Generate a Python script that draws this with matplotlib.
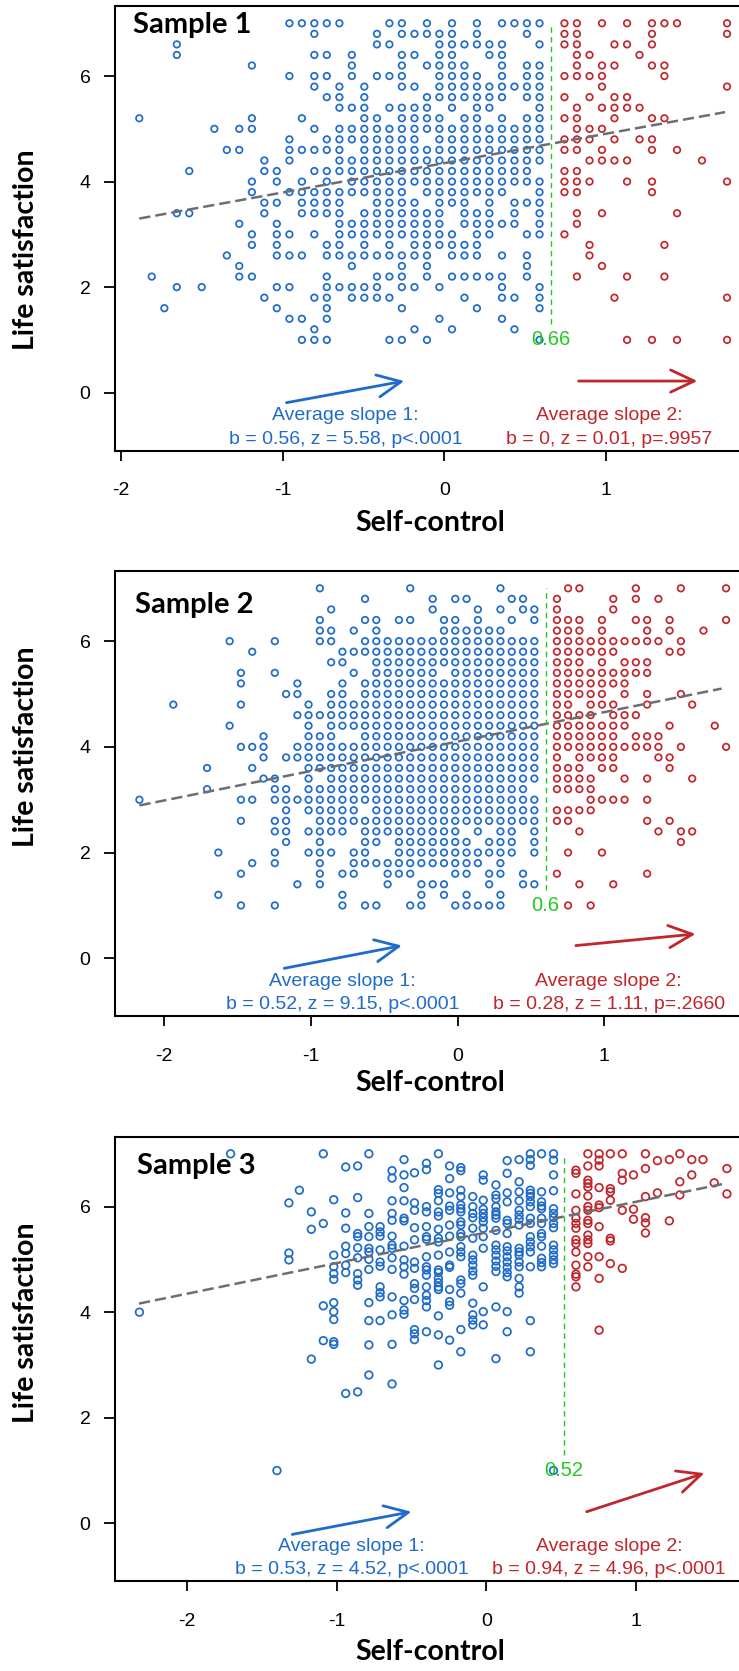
import matplotlib
matplotlib.use("Agg")
import matplotlib.pyplot as plt

plt.rcParams["font.family"] = ["Liberation Sans", "DejaVu Sans"]

blue = "#1f6bcb"
red = "#c0262c"
green = "#22c922"
grey = "#6e6e6e"

# life satisfaction levels (rows of the grid in samples 1 and 2)
row_y = [7.0, 6.8, 6.6, 6.4, 6.2, 6.0, 5.8, 5.6, 5.4, 5.2, 5.0, 4.8, 4.6, 4.4, 4.2, 4.0,
         3.8, 3.6, 3.4, 3.2, 3.0, 2.8, 2.6, 2.4, 2.2, 2.0, 1.8, 1.6, 1.4, 1.2, 1.0]

# ---------------- sample 1 ----------------
s1_x = [-1.886, -1.809, -1.731, -1.654, -1.577, -1.5, -1.422, -1.345, -1.268, -1.19,
        -1.113, -1.036, -0.958, -0.881, -0.804, -0.727, -0.649, -0.572, -0.495, -0.417,
        -0.34, -0.263, -0.185, -0.108, -0.031, 0.047, 0.124, 0.201, 0.278, 0.356,
        0.433, 0.51, 0.588, 0.665, 0.742, 0.819, 0.897, 0.974, 1.051, 1.129,
        1.206, 1.283, 1.36, 1.438, 1.515, 1.592, 1.669, 1.747]
# occupied columns (index into s1_x) for each row of row_y
s1_rows = [
    [12, 13, 14, 15, 16, 20, 21, 23, 25, 27, 29, 30, 31, 32, 34, 35, 37, 39, 41, 42, 43, 47],
    [14, 19, 21, 22, 23, 24, 25, 27, 31, 34, 35, 41, 47],
    [3, 19, 20, 24, 25, 26, 27, 28, 29, 32, 34, 35, 38, 39, 41],
    [3, 14, 15, 17, 21, 22, 24, 25, 28, 29, 35, 36, 40],
    [9, 17, 21, 23, 24, 25, 26, 29, 31, 32, 35, 37, 38, 41, 42],
    [12, 14, 15, 17, 19, 20, 21, 24, 25, 26, 27, 29, 31, 32, 34, 35, 36, 37, 42],
    [14, 16, 18, 21, 22, 24, 25, 26, 27, 28, 29, 30, 31, 32, 37, 47],
    [15, 16, 18, 23, 24, 25, 26, 27, 28, 29, 31, 32, 34, 36, 38, 39],
    [16, 17, 18, 20, 21, 22, 23, 25, 27, 28, 32, 35, 37, 38, 39, 40],
    [0, 9, 13, 18, 19, 21, 22, 23, 24, 26, 27, 29, 31, 32, 34, 35, 38, 41, 42],
    [6, 8, 9, 14, 16, 17, 18, 19, 20, 21, 22, 23, 24, 25, 26, 27, 28, 29, 30, 31, 32, 35, 36, 37],
    [12, 15, 16, 17, 18, 19, 20, 21, 22, 24, 25, 26, 27, 28, 29, 30, 31, 32, 34, 35, 36, 38, 40, 41],
    [7, 8, 12, 13, 14, 15, 16, 18, 19, 20, 21, 22, 23, 24, 25, 26, 27, 28, 29, 30, 31, 32, 34, 35, 37, 41, 43],
    [10, 12, 16, 17, 18, 19, 20, 21, 22, 23, 24, 25, 26, 27, 28, 29, 30, 31, 32, 36, 37, 38, 39, 45],
    [4, 10, 11, 14, 15, 16, 17, 18, 19, 20, 21, 22, 23, 24, 25, 26, 27, 28, 29, 30, 31, 34, 35],
    [9, 11, 13, 15, 17, 18, 19, 20, 21, 22, 23, 24, 25, 26, 27, 28, 29, 30, 31, 32, 34, 35, 36, 39, 41, 47],
    [9, 12, 13, 14, 15, 16, 17, 18, 19, 20, 21, 23, 24, 25, 26, 27, 28, 29, 32, 34, 35, 41],
    [10, 11, 13, 14, 15, 16, 19, 20, 21, 22, 24, 25, 26, 28, 30, 31, 32],
    [3, 4, 10, 13, 14, 15, 16, 18, 19, 20, 21, 22, 23, 24, 26, 27, 28, 30, 32, 35, 37, 43],
    [8, 11, 16, 17, 18, 19, 20, 21, 22, 23, 24, 26, 27, 28, 29, 30, 32, 35],
    [9, 11, 12, 14, 16, 17, 18, 19, 20, 21, 22, 23, 24, 25, 27, 28, 31, 32, 34],
    [9, 11, 15, 16, 18, 20, 22, 23, 24, 25, 26, 27, 36, 42],
    [7, 11, 12, 13, 15, 16, 17, 18, 19, 20, 21, 22, 23, 25, 26, 27, 29, 31, 36],
    [8, 17, 21, 23, 31, 37],
    [1, 8, 9, 15, 19, 20, 21, 23, 25, 26, 27, 28, 29, 31, 35, 39, 42],
    [3, 5, 11, 12, 15, 16, 17, 18, 19, 21, 22, 24, 29, 32],
    [10, 14, 15, 17, 18, 19, 20, 26, 29, 30, 32, 38, 47],
    [2, 11, 15, 21, 27, 32],
    [12, 13, 15, 24, 29],
    [14, 22, 25, 30],
    [13, 14, 15, 20, 21, 23, 32, 39, 41, 43, 47],
]

# ---------------- sample 2 ----------------
s2_x = [-2.169, -2.092, -2.015, -1.938, -1.861, -1.785, -1.708, -1.631, -1.554, -1.477,
        -1.4, -1.323, -1.246, -1.169, -1.092, -1.016, -0.939, -0.862, -0.785, -0.708,
        -0.631, -0.554, -0.477, -0.4, -0.323, -0.247, -0.17, -0.093, -0.016, 0.061,
        0.138, 0.215, 0.292, 0.369, 0.446, 0.523, 0.6, 0.677, 0.753, 0.83,
        0.907, 0.984, 1.061, 1.138, 1.215, 1.292, 1.369, 1.445, 1.522, 1.599,
        1.676, 1.753, 1.83]
s2_rows = [
    [16, 24, 32, 38, 39, 44, 48, 52],
    [20, 26, 28, 29, 33, 34, 37, 42, 44, 46],
    [17, 26, 30, 32, 34, 35, 37, 42],
    [16, 20, 21, 23, 24, 27, 28, 30, 33, 35, 37, 38, 39, 41, 44, 45, 47, 52],
    [16, 17, 19, 21, 27, 28, 29, 30, 31, 32, 37, 38, 39, 41, 45, 47, 50],
    [8, 12, 16, 17, 20, 21, 22, 23, 24, 25, 26, 27, 28, 29, 30, 31, 32, 33, 34, 35,
     37, 38, 39, 40, 41, 42, 43, 44, 45, 46, 48],
    [10, 18, 19, 20, 21, 22, 23, 24, 25, 26, 27, 28, 29, 30, 31, 32, 33, 34, 35,
     37, 38, 39, 40, 41, 42, 47, 48],
    [17, 18, 21, 22, 23, 24, 25, 26, 27, 28, 29, 30, 31, 32, 33, 34, 35, 37, 38, 39, 41, 43, 44, 45],
    [9, 12, 19, 21, 22, 23, 24, 25, 26, 28, 29, 30, 31, 32, 33, 34, 35,
     37, 38, 39, 40, 41, 42, 43, 44, 45],
    [9, 14, 18, 20, 21, 22, 23, 24, 25, 26, 27, 28, 29, 30, 31, 32, 33, 34, 35,
     37, 38, 39, 40, 41, 42, 43],
    [13, 14, 17, 18, 20, 21, 22, 23, 24, 25, 26, 27, 28, 29, 30, 31, 32, 33, 34, 35,
     37, 38, 39, 40, 41, 43, 45, 48],
    [3, 9, 15, 17, 18, 19, 20, 21, 22, 23, 24, 25, 26, 27, 28, 29, 30, 31, 32, 33, 34, 35,
     37, 38, 40, 41, 42, 45, 49],
    [14, 15, 16, 17, 18, 19, 20, 21, 22, 23, 24, 25, 26, 27, 28, 29, 30, 31, 32, 33, 34, 35,
     37, 38, 39, 40, 42, 43, 44],
    [8, 15, 17, 18, 19, 20, 21, 22, 23, 24, 25, 26, 27, 28, 29, 30, 31, 32, 33, 34, 35,
     37, 38, 39, 40, 41, 42, 43, 47, 51],
    [11, 15, 16, 17, 20, 21, 22, 23, 24, 25, 26, 27, 28, 29, 30, 31, 32, 33, 34, 35,
     37, 38, 39, 40, 41, 42, 44, 45, 46],
    [9, 10, 11, 14, 15, 16, 17, 18, 19, 20, 21, 22, 23, 24, 25, 26, 27, 28, 29, 30, 31, 32, 33, 34, 35,
     37, 38, 39, 40, 41, 42, 43, 44, 45, 46, 48, 52],
    [11, 13, 14, 15, 16, 17, 18, 19, 20, 21, 22, 23, 24, 25, 26, 27, 28, 29, 30, 31, 32, 33, 34, 35,
     37, 39, 40, 41, 42, 46, 47],
    [6, 10, 15, 16, 17, 18, 19, 20, 21, 22, 23, 24, 25, 26, 27, 28, 29, 30, 31, 32, 33, 34, 35,
     37, 38, 39, 41, 42, 47],
    [11, 12, 15, 17, 18, 19, 20, 21, 22, 23, 24, 25, 26, 27, 28, 29, 30, 31, 32, 33, 34, 35,
     37, 38, 39, 40, 43, 45, 49],
    [6, 12, 13, 15, 16, 17, 18, 19, 20, 21, 22, 23, 24, 25, 26, 27, 28, 29, 30, 31, 32, 33, 34,
     37, 38, 39, 40],
    [0, 9, 10, 12, 13, 14, 15, 16, 17, 18, 19, 20, 21, 22, 23, 24, 25, 26, 27, 28, 29, 30, 31, 32, 33, 34, 35,
     40, 41, 42, 43, 45],
    [13, 15, 16, 17, 18, 19, 21, 22, 23, 24, 25, 26, 27, 28, 29, 30, 31, 32, 33, 34, 35,
     37, 38, 39, 40],
    [9, 12, 13, 16, 17, 18, 19, 20, 21, 22, 23, 24, 25, 26, 27, 28, 29, 30, 31, 32, 33, 34, 35,
     37, 38, 45, 47],
    [12, 13, 15, 16, 17, 18, 20, 21, 22, 23, 24, 25, 26, 27, 28, 30, 32, 33, 35, 39, 46, 48, 49],
    [13, 16, 20, 21, 23, 24, 25, 26, 27, 28, 29, 31, 32, 33, 35, 48],
    [7, 12, 15, 16, 17, 19, 20, 23, 24, 25, 26, 27, 28, 29, 30, 31, 32, 33, 35, 38, 41],
    [10, 12, 16, 19, 20, 21, 22, 23, 24, 25, 26, 27, 28, 29, 30, 32],
    [9, 16, 18, 19, 22, 23, 24, 28, 29, 31, 32, 34, 37, 45],
    [14, 16, 22, 25, 26, 27, 31, 34, 35, 39, 42],
    [7, 18, 25, 27, 29, 32],
    [9, 12, 18, 20, 21, 24, 25, 28, 29, 30, 31, 32, 38, 40],
]

# ---------------- sample 3 (columns of self-control, life satisfaction values) ----------------
s3_x = [-2.32, -1.71, -1.40, -1.32, -1.25, -1.17, -1.09, -1.02, -0.94, -0.86, -0.785,
        -0.71, -0.63, -0.55, -0.48, -0.40, -0.32, -0.245, -0.17, -0.09, -0.02, 0.065,
        0.14, 0.22, 0.295, 0.37, 0.45,
        0.60, 0.68, 0.755, 0.83, 0.91, 0.985, 1.065, 1.145, 1.225, 1.295, 1.375,
        1.45, 1.525, 1.61]
s3_y = [
    [4.0],
    [7.0],
    [1.0],
    [6.07, 5.12, 4.99],
    [6.31],
    [5.9, 5.57, 3.11],
    [7.0, 5.68, 4.12, 3.46],
    [6.13, 5.08, 4.86, 4.73, 4.62, 4.18, 4.01, 3.86, 3.44, 3.39],
    [6.75, 5.88, 5.59, 5.25, 5.11, 4.89, 4.75, 2.46],
    [6.77, 6.17, 5.49, 5.43, 5.22, 5.03, 4.73, 4.61, 4.51, 2.49],
    [7.0, 5.87, 5.62, 5.43, 5.21, 5.14, 5.0, 4.81, 4.18, 3.84, 3.38, 2.81],
    [5.62, 5.52, 5.44, 5.18, 4.95, 4.87, 4.48, 4.37, 4.29, 3.84],
    [6.68, 6.54, 6.11, 5.87, 5.74, 5.44, 5.27, 5.21, 5.03, 4.81, 4.29, 3.95, 3.39, 2.64],
    [6.89, 6.6, 6.36, 6.11, 5.78, 5.73, 5.25, 4.99, 4.86, 4.72, 4.22, 4.04, 3.96],
    [6.64, 6.07, 5.93, 5.6, 5.37, 4.95, 4.83, 4.54, 4.45, 4.24, 3.67, 3.59, 3.48],
    [6.82, 6.7, 6.0, 5.9, 5.62, 5.43, 5.38, 5.05, 4.86, 4.8, 4.7, 4.48, 4.32, 4.22, 4.1, 3.63],
    [7.0, 6.32, 6.25, 6.11, 5.9, 5.82, 5.57, 5.4, 5.33, 5.08, 4.8, 4.75, 4.64, 4.56, 4.48,
     4.43, 3.93, 3.57, 3.0],
    [6.77, 6.53, 6.26, 6.01, 5.93, 5.65, 5.44, 5.14, 4.89, 4.85, 4.43, 4.2, 4.13, 3.47],
    [6.74, 6.68, 6.31, 6.19, 6.03, 5.96, 5.9, 5.71, 5.65, 5.49, 5.43, 5.24, 5.14, 5.05,
     4.61, 4.54, 4.36, 3.67, 3.25],
    [6.19, 6.0, 5.87, 5.79, 5.59, 5.4, 5.08, 4.99, 4.89, 4.78, 4.7, 4.17, 3.95, 3.85, 3.76],
    [6.6, 6.5, 6.12, 5.95, 5.87, 5.79, 5.71, 5.59, 5.43, 5.21, 4.48, 4.01, 3.76],
    [6.41, 6.22, 6.15, 6.0, 5.9, 5.84, 5.78, 5.55, 5.27, 5.18, 5.08, 4.97, 4.87, 4.77, 4.1, 3.12],
    [6.87, 6.63, 6.26, 6.09, 5.74, 5.68, 5.49, 5.24, 5.16, 5.05, 4.95, 4.85, 4.75, 4.67, 4.01, 3.63],
    [6.89, 6.47, 6.28, 6.11, 5.93, 5.84, 5.76, 5.65, 5.21, 5.14, 5.08, 4.95, 4.86, 4.64, 4.48, 4.36],
    [7.0, 6.89, 6.78, 6.31, 6.25, 6.19, 6.09, 6.0, 5.78, 5.68, 5.43, 5.33, 5.24, 5.14, 4.86, 3.84, 3.25],
    [7.0, 6.28, 6.09, 6.01, 5.96, 5.78, 5.68, 5.49, 5.43, 5.25, 5.02, 4.94, 4.86],
    [7.0, 6.88, 6.6, 6.3, 5.96, 5.87, 5.79, 5.68, 5.6, 5.27, 5.18, 5.08, 4.99, 4.92, 1.0],
    [6.69, 6.63, 6.24, 5.93, 5.78, 5.68, 5.59, 5.37, 5.3, 5.14, 4.89, 4.72, 4.67, 4.48],
    [7.0, 6.77, 6.5, 6.44, 6.37, 6.2, 6.0, 5.93, 5.74, 5.68, 5.46, 5.37, 5.3, 5.05, 4.86],
    [7.0, 6.88, 6.77, 6.36, 6.03, 5.98, 5.62, 5.05, 4.64, 3.66],
    [7.0, 6.34, 6.28, 6.12, 5.4, 5.35, 4.92],
    [7.0, 6.63, 6.5, 5.93, 4.83],
    [6.6, 5.95, 5.76],
    [7.0, 6.72, 6.19, 5.79, 5.69, 5.5],
    [6.87, 6.26],
    [6.89, 5.73],
    [7.0, 6.47, 6.22],
    [6.89, 6.6],
    [6.89],
    [6.45],
    [6.72, 6.24],
]

# ---------------- per-sample model results ----------------
names = ["Sample 1", "Sample 2", "Sample 3"]
cuts = [0.66, 0.6, 0.52]
cut_labels = ["0.66", "0.6", "0.52"]
reg_a = [4.35, 4.10, 5.51]
reg_b = [0.557, 0.557, 0.58]
reg_from = [-1.886, -2.169, -2.323]
reg_to = [1.735, 1.80, 1.577]
slope1_text = ["b = 0.56, z = 5.58, p<.0001", "b = 0.52, z = 9.15, p<.0001", "b = 0.53, z = 4.52, p<.0001"]
slope2_text = ["b = 0, z = 0.01, p=.9957", "b = 0.28, z = 1.11, p=.2660", "b = 0.94, z = 4.96, p<.0001"]
arrow1 = [((-0.976, -0.19), (-0.248, 0.22)), ((-1.182, -0.19), (-0.379, 0.24)), ((-1.298, -0.21), (-0.50, 0.22))]
arrow2 = [((0.83, 0.22), (1.564, 0.22)), ((0.806, 0.24), (1.622, 0.46)), ((0.672, 0.22), (1.46, 0.95))]

# layout (figure pixels 739 x 1671)
W, H = 739, 1671
ax_top = [6.4, 571.4, 1136.9]
ax_bot = [450.7, 1016.4, 1581.4]
xlims = [(-2.033, 1.858), (-2.332, 1.959), (-2.48, 1.731)]
name_pos = [(-1.925, 6.97), (-2.199, 6.69), (-2.338, 6.77)]
txt1_x = [-0.61, -0.785, -0.90]
txt2_x = [1.02, 1.03, 0.82]
ylab_y = [250, 746.6, 1322.8]
xlab_y = [523, 1083, 1652]
msize = [22, 22, 30]

fig = plt.figure(figsize=(W / 100, H / 100), dpi=100)

for i in range(3):
    ax = fig.add_axes([115.5 / W, (H - ax_bot[i]) / H, 629.5 / W, (ax_bot[i] - ax_top[i]) / H])
    ax.set_xlim(*xlims[i])
    ax.set_ylim(-1.1, 7.32)

    if i < 2:
        gx = s1_x if i == 0 else s2_x
        rows = s1_rows if i == 0 else s2_rows
        xs, ys = [], []
        for yv, cols in zip(row_y, rows):
            for k in cols:
                xs.append(gx[k])
                ys.append(yv)
    else:
        xs, ys = [], []
        for xv, yl in zip(s3_x, s3_y):
            for yv in yl:
                xs.append(xv)
                ys.append(yv)
    colors = [blue if x < cuts[i] else red for x in xs]
    ax.scatter(xs, ys, s=msize[i], facecolors="none", edgecolors=colors, linewidths=1.25, zorder=2)

    # fitted line
    lx = [reg_from[i], reg_to[i]]
    ly = [reg_a[i] + reg_b[i] * v for v in lx]
    ax.plot(lx, ly, color=grey, lw=1.8, dashes=(4.5, 2), zorder=3)

    # threshold
    ax.plot([cuts[i], cuts[i]], [1.3, 7.0], color=green, lw=1.0, dashes=(4, 3), zorder=3)
    ax.text(cuts[i], 1.0, cut_labels[i], color=green, fontsize=14.5, ha="center", va="center", zorder=4)

    # slope arrows
    for (p0, p1), c in [(arrow1[i], blue), (arrow2[i], red)]:
        ax.annotate("", xy=p1, xytext=p0,
                    arrowprops=dict(arrowstyle="->,head_length=1.7,head_width=0.8", color=c, lw=2.0,
                                    shrinkA=0, shrinkB=0, mutation_scale=10))

    ax.text(txt1_x[i], -0.44, "Average slope 1:", color=blue, fontsize=14, ha="center", va="center")
    ax.text(txt1_x[i], -0.88, slope1_text[i], color=blue, fontsize=14, ha="center", va="center")
    ax.text(txt2_x[i], -0.44, "Average slope 2:", color=red, fontsize=14, ha="center", va="center")
    ax.text(txt2_x[i], -0.88, slope2_text[i], color=red, fontsize=14, ha="center", va="center")

    ax.text(name_pos[i][0], name_pos[i][1], names[i], fontfamily="Lato", fontweight="bold",
            fontsize=21, ha="left", va="center")

    ax.set_xticks([-2, -1, 0, 1])
    ax.set_xticklabels(["-2", "-1", "0", "1"])
    ax.set_yticks([0, 2, 4, 6])
    ax.tick_params(axis="x", direction="out", length=7.5, width=1.3, pad=15, labelsize=14)
    ax.tick_params(axis="y", direction="out", length=8, width=1.3, pad=10, labelsize=14)
    for sp in ax.spines.values():
        sp.set_linewidth(1.5)

    fig.text(26 / W, 1 - ylab_y[i] / H, "Life satisfaction", rotation=90, ha="center", va="center",
             fontfamily="Lato", fontweight="bold", fontsize=20.5)
    fig.text(430 / W, 1 - xlab_y[i] / H, "Self-control", ha="center", va="center",
             fontfamily="Lato", fontweight="bold", fontsize=20.5)

fig.savefig("out.png", dpi=100)
